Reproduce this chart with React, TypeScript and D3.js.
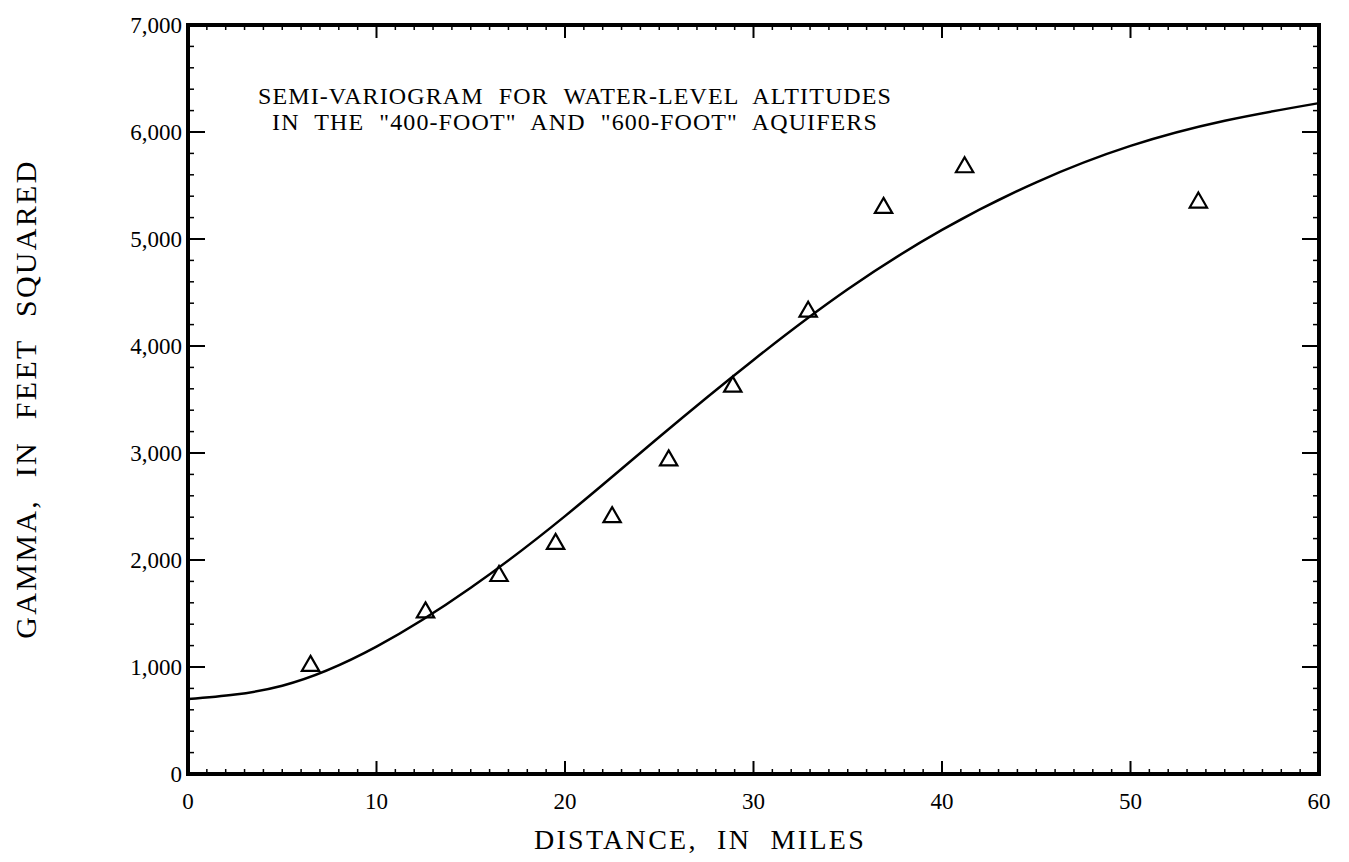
import React from "react";
import * as d3 from "d3";

// Experimental semi-variogram: lag distance (miles) and gamma (ft^2)
const lagDistance = [6.5, 12.6, 16.5, 19.5, 22.5, 25.5, 28.9, 32.9, 36.9, 41.2, 53.6];
const gammaObserved = [1020, 1520, 1860, 2160, 2410, 2940, 3630, 4330, 5300, 5680, 5350];

// Fitted model curve, sampled along distance
const modelDistance = [0, 5, 10, 15, 20, 25, 30, 35, 40, 45, 50, 55, 60];
const modelGamma = [700, 825, 1190, 1740, 2410, 3150, 3870, 4530, 5085, 5530, 5870, 6105, 6270];

const xTicks = [0, 10, 20, 30, 40, 50, 60];
const yTicks = [0, 1000, 2000, 3000, 4000, 5000, 6000, 7000];

const titleLines = [
  "SEMI-VARIOGRAM FOR WATER-LEVEL ALTITUDES",
  "IN THE \"400-FOOT\" AND \"600-FOOT\" AQUIFERS",
];

const W = 1349;
const H = 862;
const M = { left: 188, right: 1319, top: 25, bottom: 774 };
const FONT = "'Liberation Serif', 'Times New Roman', serif";

export default function App() {
  const x = d3.scaleLinear().domain([0, 60]).range([M.left, M.right]);
  const y = d3.scaleLinear().domain([0, 7000]).range([M.bottom, M.top]);

  const xMinor = d3.range(0, 61, 1).filter((v) => v % 10 !== 0);
  const yMinor = d3.range(0, 7001, 200).filter((v) => v % 1000 !== 0);

  // Natural cubic spline through the sampled model values
  const line = d3
    .line<number>()
    .x((_, i) => x(modelDistance[i]))
    .y((d) => y(d))
    .curve(d3.curveNatural);

  const tri = d3.symbol().type(d3.symbolTriangle).size(130);
  const fmt = d3.format(",");

  return (
    <svg
      width={W}
      height={H}
      style={{ position: "absolute", left: 0, top: 0, background: "#fff" }}
      fontFamily={FONT}
    >
      <rect width={W} height={H} fill="#fff" />

      {/* minor ticks, all four sides */}
      <g stroke="#000" strokeWidth={1.5}>
        {xMinor.map((v) => (
          <g key={"xm" + v}>
            <line x1={x(v)} x2={x(v)} y1={M.bottom} y2={M.bottom - 5} />
            <line x1={x(v)} x2={x(v)} y1={M.top} y2={M.top + 5} />
          </g>
        ))}
        {yMinor.map((v) => (
          <g key={"ym" + v}>
            <line x1={M.left} x2={M.left + 6} y1={y(v)} y2={y(v)} />
            <line x1={M.right} x2={M.right - 6} y1={y(v)} y2={y(v)} />
          </g>
        ))}
      </g>

      {/* major ticks */}
      <g stroke="#000" strokeWidth={2}>
        {xTicks.map((v) => (
          <g key={"xM" + v}>
            <line x1={x(v)} x2={x(v)} y1={M.bottom} y2={M.bottom - 13} />
            <line x1={x(v)} x2={x(v)} y1={M.top} y2={M.top + 13} />
          </g>
        ))}
        {yTicks.map((v) => (
          <g key={"yM" + v}>
            <line x1={M.left} x2={M.left + 17} y1={y(v)} y2={y(v)} />
            <line x1={M.right} x2={M.right - 17} y1={y(v)} y2={y(v)} />
          </g>
        ))}
      </g>

      {/* frame */}
      <rect
        x={M.left}
        y={M.top}
        width={M.right - M.left}
        height={M.bottom - M.top}
        fill="none"
        stroke="#000"
        strokeWidth={4}
      />

      {/* tick labels */}
      <g fontSize={23} fill="#000">
        {xTicks.map((v) => (
          <text key={"xl" + v} x={x(v)} y={M.bottom + 35} textAnchor="middle">
            {v}
          </text>
        ))}
        {yTicks.map((v) => (
          <text key={"yl" + v} x={M.left - 6} y={y(v) + 8} textAnchor="end">
            {fmt(v)}
          </text>
        ))}
      </g>

      {/* axis titles */}
      <text
        x={700}
        y={849}
        textAnchor="middle"
        fontSize={28}
        wordSpacing={10}
        letterSpacing={2.3}
      >
        DISTANCE, IN MILES
      </text>
      <text
        transform={`translate(36, 399) rotate(-90)`}
        textAnchor="middle"
        fontSize={30}
        wordSpacing={12}
        letterSpacing={2.3}
      >
        GAMMA, IN FEET SQUARED
      </text>

      {/* in-plot title */}
      <g fontSize={24} textAnchor="middle" letterSpacing={1.1}>
        {titleLines.map((t, i) => (
          <text key={i} x={575} y={104 + i * 26} wordSpacing={8}>
            {t}
          </text>
        ))}
      </g>

      {/* model curve */}
      <path d={line(modelGamma) || ""} fill="none" stroke="#000" strokeWidth={2.5} />

      {/* observed points */}
      <g fill="none" stroke="#000" strokeWidth={2.2}>
        {gammaObserved.map((g, i) => (
          <path
            key={"p" + i}
            d={tri() || ""}
            transform={`translate(${x(lagDistance[i])}, ${y(g) + 1})`}
          />
        ))}
      </g>
    </svg>
  );
}
